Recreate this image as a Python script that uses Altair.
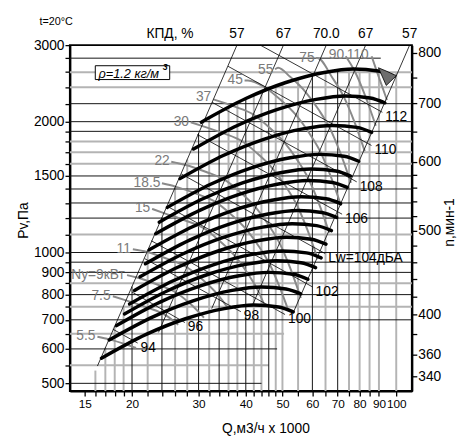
import altair as alt
import pandas as pd

FONT = "Liberation Sans Narrow, Arial Narrow, Liberation Sans, sans-serif"

# ---------------- axes ----------------
Q_DOMAIN = [13.7, 110]
P_DOMAIN = [480, 3000]
N_DOMAIN = [326.8, 816.9]

x_ticks = [15, 16, 17, 18, 19, 20, 22, 24, 26, 28, 30, 32, 34, 36, 38, 40, 42, 44, 46, 48,
           50, 55, 60, 65, 70, 75, 80, 85, 90, 100]
x_labels = [15, 20, 30, 40, 50, 60, 70, 80, 90, 100]
y_ticks = [500, 550, 600, 650, 700, 750, 800, 850, 900, 950, 1000, 1100, 1200, 1300, 1400,
           1500, 1600, 1700, 1800, 1900, 2000, 2200, 2400, 2600, 2800, 3000]
y_labels = [500, 600, 700, 800, 900, 1000, 1500, 2000, 3000]
n_ticks = [340, 360, 380, 400, 420, 440, 460, 480, 500, 520, 540, 560, 580, 600, 650, 700, 750, 800]
n_labels = [340, 360, 400, 500, 600, 700, 800]

# ---------------- grid ----------------
vgrid_Q = [16, 17, 18, 19, 20, 22, 24, 26, 28, 30, 32, 34, 36, 38, 40, 42, 44, 46, 48, 50,
           55, 60, 65, 70, 75, 80, 85, 90, 100]
vgrid_top = [535, 604, 677, 754, 835, 1011, 1203, 1412, 1637, 1880, 2037, 2093, 2149, 2205,
             2261, 2297, 2334, 2370, 2407, 2443, 2500, 2551, 2598, 2617, 2636, 2640, 2630, 2615, 2600]
vgrid_col = ["g", "g", "g", "g", "k", "g", "k", "g", "g", "k", "g", "k", "g", "g", "k", "g",
             "g", "k", "g", "g", "g", "k", "g", "k", "g", "g", "g", "g", "g"]

hgrid_P = [500, 550, 600, 650, 700, 750, 800, 850, 900, 950, 1000, 1100, 1200, 1300, 1400,
           1500, 1600, 1700, 1800, 1900, 2000, 2200, 2400, 2600, 2800]
hgrid_end = [44, 46, 48.4, 50.5, 110, 110, 110, 110, 110, 110, 110, 110, 110, 110, 110,
             110, 110, 110, 110, 110, 110, 110, 110, 110, 91]
hgrid_col = ["k", "g", "k", "g", "k", "g", "k", "g", "k", "k", "k", "g", "k", "k", "k",
             "k", "g", "g", "g", "k", "k", "k", "g", "g", "k"]

# ---------------- fan curves (thick black) ----------------
fan_Q = [
    [30.5, 40.0, 50.8, 64.5, 77.2, 89.6, 98.0],
    [29.1, 38.0, 48.3, 61.4, 73.5, 85.3, 93.3],
    [26.8, 35.1, 44.6, 56.6, 67.8, 78.7, 86.1],
    [24.8, 32.5, 41.2, 52.4, 62.7, 72.8, 79.6],
    [23.6, 30.9, 39.2, 49.8, 59.6, 69.2, 75.7],
    [23.1, 30.3, 38.4, 48.8, 58.4, 67.8, 74.2],
    [22.2, 29.1, 36.9, 46.9, 56.1, 65.2, 71.3],
    [21.7, 28.4, 36.0, 45.8, 54.8, 63.6, 69.6],
    [21.0, 27.5, 34.9, 44.3, 53.1, 61.6, 67.4],
    [20.3, 26.6, 33.8, 42.9, 51.3, 59.6, 65.2],
    [19.7, 25.8, 32.8, 41.6, 49.8, 57.9, 63.3],
    [19.1, 25.0, 31.7, 40.3, 48.2, 56.0, 61.2],
    [18.2, 23.8, 30.2, 38.4, 46.0, 53.4, 58.4],
    [17.4, 22.8, 29.0, 36.8, 44.0, 51.1, 55.9],
    [16.6, 21.8, 27.7, 35.1, 42.0, 48.8, 53.4],
]
fan_P = [
    [1995, 2261, 2458, 2596, 2644, 2616, 2549],
    [1730, 1960, 2131, 2251, 2292, 2268, 2210],
    [1479, 1676, 1822, 1925, 1960, 1940, 1890],
    [1270, 1439, 1564, 1652, 1682, 1665, 1622],
    [1174, 1331, 1446, 1528, 1556, 1540, 1500],
    [1105, 1252, 1361, 1438, 1465, 1449, 1412],
    [1014, 1149, 1249, 1319, 1343, 1329, 1295],
    [942, 1068, 1161, 1226, 1249, 1236, 1204],
    [879, 996, 1083, 1144, 1165, 1153, 1123],
    [818, 927, 1008, 1064, 1084, 1073, 1045],
    [761, 862, 937, 990, 1008, 998, 972],
    [722, 819, 890, 940, 957, 947, 923],
    [679, 770, 837, 884, 900, 891, 868],
    [629, 712, 774, 818, 833, 824, 803],
    [571, 648, 704, 743, 757, 749, 730],
]

# ---------------- power curves (gray) ----------------
pw_labels = ["5.5", "7.5", "Ny=9кВт", "11", "15", "18.5", "22", "30", "37", "45", "55", "75", "90", "110"]
pw_lab_Q = [16.0, 17.55, 19.13, 19.85, 22.35, 23.77, 25.16, 28.3, 32.4, 39.3, 47.3, 60.8, 72.8, 84.5]
pw_lab_P = [642, 795, 889, 1019, 1263, 1445, 1620, 1996, 2277, 2487, 2634, 2803, 2845, 2845]
pw_Q = [
    [16.2, 17.4, 19.0, 20.5],
    [17.8, 19.28, 21.96, 24.58, 26.5],
    [19.4, 20.49, 23.33, 26.12, 28.66, 31.0],
    [20.1, 21.91, 24.95, 27.94, 30.65, 33.72, 36.0],
    [22.6, 24.29, 27.66, 30.97, 33.98, 37.38, 40.43, 43.22, 44.9],
    [24.0, 26.05, 29.67, 33.22, 36.45, 40.10, 43.38, 46.37, 49.57, 51.8],
    [25.4, 27.61, 31.44, 35.20, 38.62, 42.49, 45.96, 49.13, 52.53, 55.93],
    [28.6, 30.60, 34.85, 39.02, 42.81, 47.10, 50.95, 54.46, 58.22, 62.0],
    [32.83, 37.39, 41.86, 45.93, 50.52, 54.65, 58.42, 62.46, 66.51],
    [39.7, 40.5, 44.97, 49.34, 54.28, 58.72, 62.77, 67.11, 71.45],
    [47.8, 48.7, 52.40, 57.65, 62.36, 66.67, 71.27, 75.89],
    [61.3, 61.9, 67.83, 72.51, 77.52, 82.54],
    [73.5, 77.55, 82.91, 88.29],
    [86.1, 88.75, 94.51],
]
pw_P = [
    [640, 631, 617, 603],
    [793, 776, 747, 717, 682],
    [887, 877, 844, 809, 759, 708],
    [1017, 1003, 965, 925, 868, 800, 742],
    [1260, 1232, 1185, 1137, 1066, 983, 896, 813, 753],
    [1443, 1418, 1364, 1308, 1227, 1131, 1031, 936, 817, 737],
    [1618, 1592, 1532, 1469, 1378, 1270, 1157, 1051, 917, 786],
    [1994, 1956, 1882, 1805, 1693, 1560, 1422, 1291, 1127, 965],
    [2250, 2165, 2077, 1947, 1795, 1636, 1486, 1296, 1110],
    [2487, 2487, 2397, 2248, 2072, 1888, 1715, 1496, 1282],
    [2640, 2661, 2536, 2337, 2130, 1935, 1688, 1446],
    [2803, 2803, 2521, 2290, 1998, 1711],
    [2828, 2619, 2285, 1957],
    [2828, 2618, 2242],
]

# ---------------- noise lines (thin black) ----------------
noise_labels = ["94", "96", "98", "100", "102", "Lw=104дБА", "106", "108", "110", "112"]
noise_Q0 = [17.8, 20.0, 21.6, 22.5, 24.8, 27.0, 29.8, 32.6, 35.9, 43.7]
noise_P0 = [666, 811, 968, 1064, 1277, 1516, 1867, 2215, 2682, 3000]
noise_Q1 = [20.7, 27.6, 38.8, 50.8, 60.1, 64.9, 71.9, 78.6, 86.0, 91.9]
noise_P1 = [619, 690, 731, 720, 833, 994, 1225, 1454, 1763, 2102]

# ---------------- efficiency lines ----------------
eff_labels = ["57", "67", "70.0", "67", "57"]
eff_Qtop = [37.9, 50.3, 65.3, 83.0, 108.5]
eff_Qbot = [16.2, 23.5, 32.5, 41.7, 53.4]
eff_Pbot = [548, 655, 743, 758, 727]

# hatched zone
hatch_Q = [89.7, 94.1, 100.1]
hatch_top = [2661, 2615, 2552]
hatch_bot = [2661, 2423, 2552]

# ---------------- build tables ----------------
xs = alt.Scale(type="log", domain=Q_DOMAIN, nice=False)
ys = alt.Scale(type="log", domain=P_DOMAIN, nice=False)

vg = pd.DataFrame({"Q": vgrid_Q, "top": vgrid_top, "c": vgrid_col, "lo": P_DOMAIN[0]})
hg = pd.DataFrame({"P": hgrid_P, "end": hgrid_end, "c": hgrid_col, "start": Q_DOMAIN[0]})

fan_rows = []
for i, (qs, ps) in enumerate(zip(fan_Q, fan_P)):
    for q, p in zip(qs, ps):
        fan_rows.append({"id": i, "Q": q, "P": p})
fan_df = pd.DataFrame(fan_rows)

pw_rows = []
for i, (qs, ps) in enumerate(zip(pw_Q, pw_P)):
    for q, p in zip(qs, ps):
        pw_rows.append({"id": i, "Q": q, "P": p})
pw_df = pd.DataFrame(pw_rows)
pw_lab_df = pd.DataFrame({"t": pw_labels, "Q": pw_lab_Q, "P": pw_lab_P})

noise_rows = []
for i in range(len(noise_labels)):
    noise_rows.append({"id": i, "Q": noise_Q0[i], "P": noise_P0[i]})
    noise_rows.append({"id": i, "Q": noise_Q1[i], "P": noise_P1[i]})
noise_df = pd.DataFrame(noise_rows)
noise_lab_df = pd.DataFrame({"t": noise_labels, "Q": noise_Q1, "P": noise_P1})

eff_rows = []
for i in range(len(eff_labels)):
    eff_rows.append({"id": i, "Q": eff_Qbot[i], "P": eff_Pbot[i]})
    eff_rows.append({"id": i, "Q": eff_Qtop[i], "P": 3000})
eff_df = pd.DataFrame(eff_rows)
eff_lab_df = pd.DataFrame({"t": eff_labels + ["КПД, %"], "Q": eff_Qtop + [25.2], "P": [3177] * 6})

hatch_df = pd.DataFrame({"Q": hatch_Q, "top": hatch_top, "bot": hatch_bot})

# ---------------- axes ----------------
lab_expr_x = "indexof(%s, datum.value) >= 0 ? datum.label : ''" % str(x_labels)
lab_expr_y = "indexof(%s, datum.value) >= 0 ? datum.label : ''" % str(y_labels)
lab_expr_n = "indexof(%s, datum.value) >= 0 ? datum.label : ''" % str(n_labels)

axis_common = dict(domainColor="black", domainWidth=2, tickColor="black", tickWidth=1.3,
                   tickSize=5, labelFont=FONT, labelColor="black",
                   titleFont=FONT, titleFontSize=14, titleFontWeight="normal", titleColor="black",
                   grid=False, labelOverlap=False, labelFlush=False)

x_axis = alt.Axis(values=x_ticks, labelExpr=lab_expr_x, format="d", title="Q,м3/ч x 1000",
                  labelPadding=3, labelFontSize=12, titleX=199, titleY=38, titleAlign="center",
                  titleBaseline="middle", **axis_common)
y_axis = alt.Axis(values=y_ticks, labelExpr=lab_expr_y, format="d", title="Pv,Па",
                  labelPadding=1, labelFontSize=14, titleX=-47, titleY=178, titleAngle=270,
                  titleAlign="center", titleBaseline="middle", **axis_common)


def X(field):
    return alt.X(field, scale=xs, axis=x_axis)


def Y(field):
    return alt.Y(field, scale=ys, axis=y_axis)


# ---------------- layers ----------------
grid_v_gray = alt.Chart(vg[vg.c == "g"]).mark_rule(color="#b4b4b4", strokeWidth=2).encode(
    x=X("Q:Q"), y=Y("lo:Q"), y2="top:Q")
grid_v_black = alt.Chart(vg[vg.c == "k"]).mark_rule(color="#111", strokeWidth=1).encode(
    x=X("Q:Q"), y=Y("lo:Q"), y2="top:Q")
grid_h_gray = alt.Chart(hg[hg.c == "g"]).mark_rule(color="#b4b4b4", strokeWidth=2).encode(
    y=Y("P:Q"), x=X("start:Q"), x2="end:Q")
grid_h_black = alt.Chart(hg[hg.c == "k"]).mark_rule(color="#111", strokeWidth=1).encode(
    y=Y("P:Q"), x=X("start:Q"), x2="end:Q")

power = alt.Chart(pw_df).mark_line(color="#8a8a8a", strokeWidth=2, interpolate="monotone").encode(
    x=X("Q:Q"), y=Y("P:Q"), detail="id:N")
power_lab = alt.Chart(pw_lab_df).mark_text(align="right", baseline="middle", font=FONT,
                                            fontSize=14, color="#7a7a7a").encode(
    x=X("Q:Q"), y=Y("P:Q"), text="t:N")

eff = alt.Chart(eff_df).mark_line(color="black", strokeWidth=0.8).encode(
    x=X("Q:Q"), y=Y("P:Q"), detail="id:N")
eff_lab = alt.Chart(eff_lab_df).mark_text(align="center", baseline="middle", font=FONT,
                                          fontSize=14, color="black").encode(
    x=X("Q:Q"), y=Y("P:Q"), text="t:N")

noise = alt.Chart(noise_df).mark_line(color="black", strokeWidth=0.8).encode(
    x=X("Q:Q"), y=Y("P:Q"), detail="id:N")
noise_lab = alt.Chart(noise_lab_df).mark_text(align="left", baseline="middle", font=FONT,
                                              fontSize=14, color="black", dx=3, dy=5).encode(
    x=X("Q:Q"), y=Y("P:Q"), text="t:N")

fans = alt.Chart(fan_df).mark_line(color="black", strokeWidth=3.5, interpolate="monotone",
                                   strokeCap="round").encode(
    x=X("Q:Q"), y=Y("P:Q"), detail="id:N")

hatch = alt.Chart(hatch_df).mark_area(color="#6e6e6e", stroke="black", strokeWidth=0.8).encode(
    x=X("Q:Q"), y=Y("top:Q"), y2="bot:Q")

box_df = pd.DataFrame({"q0": [15.99], "q1": [25.16], "p0": [2500], "p1": [2690]})
box = alt.Chart(box_df).mark_rect(fill="white", stroke="black", strokeWidth=1).encode(
    x=X("q0:Q"), x2="q1:Q", y=Y("p0:Q"), y2="p1:Q")
rho_df = pd.DataFrame({"t": ["ρ=1.2 кг/м"], "Q": [16.3], "P": [2580]})
rho = alt.Chart(rho_df).mark_text(align="left", baseline="middle", font=FONT, fontSize=13,
                                  fontStyle="italic", color="black").encode(
    x=X("Q:Q"), y=Y("P:Q"), text="t:N")
sup_df = pd.DataFrame({"t": ["3"], "Q": [24.1], "P": [2665]})
sup = alt.Chart(sup_df).mark_text(align="left", baseline="middle", font=FONT, fontSize=9,
                                  fontWeight="bold", fontStyle="italic", color="black").encode(
    x=X("Q:Q"), y=Y("P:Q"), text="t:N")
temp_df = pd.DataFrame({"t": ["t=20°C"], "Q": [11.38], "P": [3382]})
temp = alt.Chart(temp_df).mark_text(align="left", baseline="middle", font=FONT, fontSize=11,
                                    color="black").encode(
    x=X("Q:Q"), y=Y("P:Q"), text="t:N")

main = alt.layer(grid_v_gray, grid_h_gray, grid_v_black, grid_h_black, power, eff, noise,
                 fans, hatch, power_lab, noise_lab, eff_lab, box, rho, sup, temp)

rpm_df = pd.DataFrame({"n": n_ticks})
n_axis = alt.Axis(orient="right", values=n_ticks, labelExpr=lab_expr_n, format="d",
                  title="n,мин-1", labelPadding=1, labelFontSize=14, titleX=38, titleY=180,
                  titleAngle=270, titleAlign="center", titleBaseline="middle", **axis_common)
rpm = alt.Chart(rpm_df).mark_point(opacity=0).encode(
    y=alt.Y("n:Q", scale=alt.Scale(type="log", domain=N_DOMAIN, nice=False), axis=n_axis))

chart = alt.layer(main, rpm).resolve_scale(y="independent").properties(
    width=348, height=352,
    autosize=alt.AutoSizeParams(type="none"),
    padding={"left": 63, "top": 34, "right": 51, "bottom": 44},
).configure_view(stroke="black", strokeWidth=2)

chart.save("out.html", embed_options={"renderer": "svg", "actions": False})
